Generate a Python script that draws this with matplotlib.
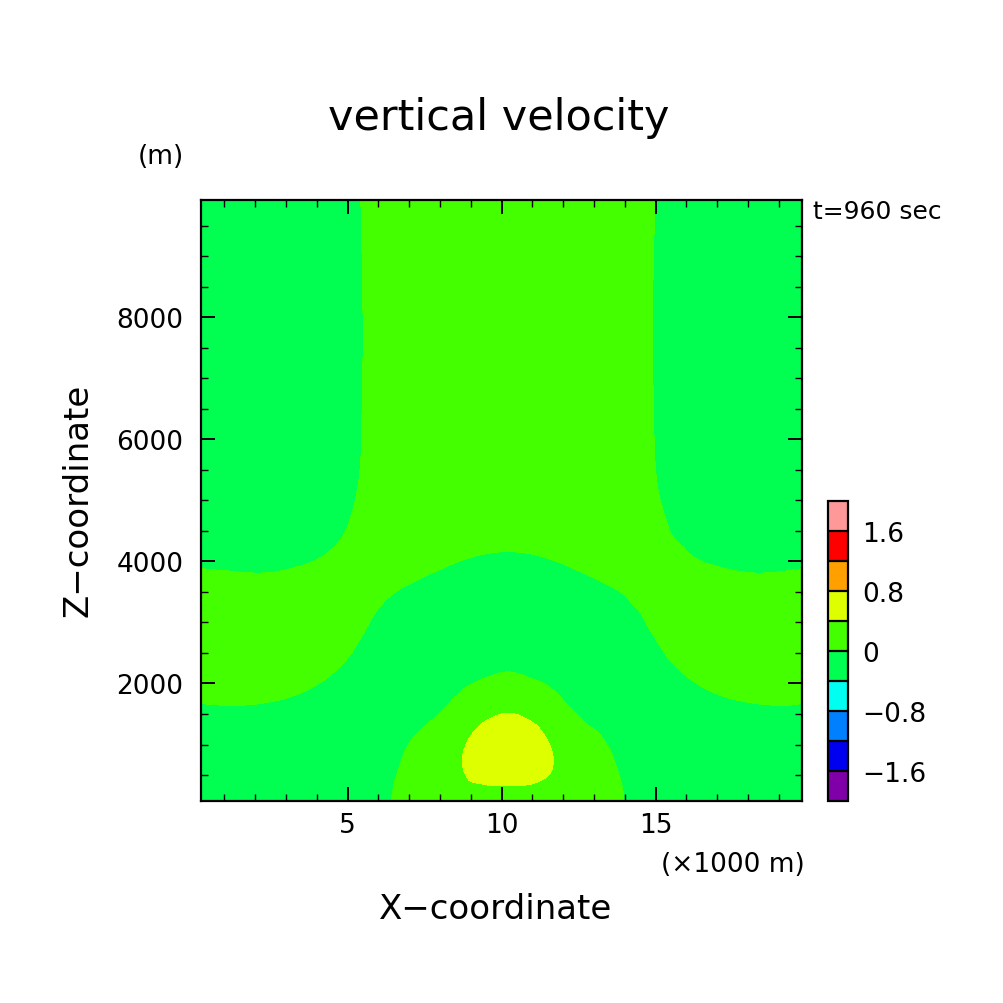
import numpy as np
import matplotlib
matplotlib.use("Agg")
import matplotlib.pyplot as plt
import matplotlib.tri as mtri

# ---------------- data ----------------
# x positions of the value columns (x 1000 m)
x_km = [0.25, 1.2, 2.2, 3.2, 4.2, 4.95, 5.7, 6.45, 7.2, 7.95, 8.7, 9.45, 10.2,
        10.95, 11.7, 12.45, 13.2, 13.95, 14.7, 15.45, 16.2, 17.2, 18.2, 19.2, 19.75]
# z positions of the value rows (m)
z_m = [75, 300, 600, 900, 1200, 1500, 1800, 2100, 2400, 2800, 3200, 3600, 4000,
       4400, 4800, 5400, 6500, 8000, 9925]
# vertical velocity (m/s), one row per z level
w_rows = [
    [-0.28, -0.28, -0.28, -0.28, -0.28, -0.235, -0.115, 0.005, 0.116, 0.22, 0.28, 0.30, 0.30, 0.30, 0.28, 0.22, 0.116, 0.005, -0.115, -0.235, -0.28, -0.28, -0.28, -0.28, -0.28],
    [-0.274, -0.268, -0.275, -0.28, -0.28, -0.246, -0.126, -0.006, 0.119, 0.24, 0.345, 0.38, 0.385, 0.38, 0.345, 0.24, 0.119, -0.006, -0.126, -0.246, -0.28, -0.28, -0.275, -0.268, -0.274],
    [-0.214, -0.208, -0.215, -0.238, -0.257, -0.28, -0.167, -0.036, 0.099, 0.24, 0.39, 0.51, 0.56, 0.51, 0.39, 0.24, 0.099, -0.036, -0.167, -0.28, -0.257, -0.238, -0.215, -0.208, -0.214],
    [-0.154, -0.148, -0.155, -0.175, -0.2, -0.236, -0.22, -0.077, 0.064, 0.22, 0.384, 0.56, 0.65, 0.56, 0.384, 0.22, 0.064, -0.077, -0.22, -0.236, -0.2, -0.175, -0.155, -0.148, -0.154],
    [-0.094, -0.088, -0.095, -0.115, -0.146, -0.18, -0.226, -0.145, -0.013, 0.121, 0.304, 0.485, 0.58, 0.485, 0.304, 0.121, -0.013, -0.145, -0.226, -0.18, -0.146, -0.115, -0.095, -0.088, -0.094],
    [-0.034, -0.028, -0.035, -0.056, -0.093, -0.131, -0.18, -0.23, -0.143, -0.002, 0.18, 0.335, 0.409, 0.335, 0.18, -0.002, -0.143, -0.23, -0.18, -0.131, -0.093, -0.056, -0.035, -0.028, -0.034],
    [0.026, 0.032, 0.025, 0.002, -0.04, -0.084, -0.135, -0.19, -0.24, -0.134, 0.039, 0.186, 0.232, 0.186, 0.039, -0.134, -0.24, -0.19, -0.135, -0.084, -0.04, 0.002, 0.025, 0.032, 0.026],
    [0.086, 0.092, 0.085, 0.058, 0.009, -0.04, -0.096, -0.156, -0.22, -0.27, -0.107, -0.007, 0.056, -0.007, -0.107, -0.27, -0.22, -0.156, -0.096, -0.04, 0.009, 0.058, 0.085, 0.092, 0.086],
    [0.146, 0.152, 0.145, 0.113, 0.056, 0.002, -0.06, -0.123, -0.185, -0.26, -0.28, -0.17, -0.12, -0.17, -0.28, -0.26, -0.185, -0.123, -0.06, 0.002, 0.056, 0.113, 0.145, 0.152, 0.146],
    [0.2, 0.2, 0.2, 0.18, 0.109, 0.046, -0.018, -0.083, -0.148, -0.185, -0.24, -0.26, -0.27, -0.26, -0.24, -0.185, -0.148, -0.083, -0.018, 0.046, 0.109, 0.18, 0.2, 0.2, 0.2],
    [0.136, 0.128, 0.122, 0.138, 0.153, 0.087, 0.021, -0.038, -0.085, -0.12, -0.15, -0.18, -0.19, -0.18, -0.15, -0.12, -0.085, -0.038, 0.021, 0.087, 0.153, 0.138, 0.122, 0.128, 0.136],
    [0.056, 0.048, 0.042, 0.058, 0.084, 0.12, 0.071, 0.021, -0.014, -0.046, -0.078, -0.10, -0.112, -0.10, -0.078, -0.046, -0.014, 0.021, 0.071, 0.12, 0.084, 0.058, 0.042, 0.048, 0.056],
    [-0.024, -0.032, -0.038, -0.022, 0.014, 0.062, 0.117, 0.08, 0.056, 0.026, -0.003, -0.024, -0.032, -0.024, -0.003, 0.026, 0.056, 0.08, 0.117, 0.062, 0.014, -0.022, -0.038, -0.032, -0.024],
    [-0.104, -0.112, -0.118, -0.10, -0.047, 0.01, 0.08, 0.16, 0.125, 0.099, 0.074, 0.056, 0.048, 0.056, 0.074, 0.099, 0.125, 0.16, 0.08, 0.01, -0.047, -0.10, -0.118, -0.112, -0.104],
    [-0.18, -0.19, -0.2, -0.175, -0.095, -0.018, 0.053, 0.13, 0.2, 0.17, 0.15, 0.136, 0.128, 0.136, 0.15, 0.17, 0.2, 0.13, 0.053, -0.018, -0.095, -0.175, -0.2, -0.19, -0.18],
    [-0.25, -0.25, -0.25, -0.22, -0.11, -0.043, 0.032, 0.107, 0.18, 0.25, 0.25, 0.25, 0.25, 0.25, 0.25, 0.25, 0.18, 0.107, 0.032, -0.043, -0.11, -0.22, -0.25, -0.25, -0.25],
    [-0.25, -0.25, -0.25, -0.227, -0.127, -0.052, 0.023, 0.098, 0.173, 0.25, 0.25, 0.25, 0.25, 0.25, 0.25, 0.25, 0.173, 0.098, 0.023, -0.052, -0.127, -0.227, -0.25, -0.25, -0.25],
    [-0.25, -0.25, -0.25, -0.23, -0.13, -0.055, 0.02, 0.095, 0.17, 0.25, 0.25, 0.25, 0.25, 0.25, 0.25, 0.25, 0.17, 0.095, 0.02, -0.055, -0.13, -0.23, -0.25, -0.25, -0.25],
    [-0.25, -0.25, -0.25, -0.22, -0.12, -0.048, 0.027, 0.10, 0.18, 0.25, 0.25, 0.25, 0.25, 0.25, 0.25, 0.25, 0.18, 0.10, 0.027, -0.048, -0.12, -0.22, -0.25, -0.25, -0.25],
]

# colour shading levels and colours
levels = [-2.0, -1.6, -1.2, -0.8, -0.4, 0.0, 0.4, 0.8, 1.2, 1.6, 2.0]
shade_colors = ["#7f00a8", "#0000f0", "#0080ff", "#00fff0", "#00ff50",
                "#44ff00", "#ddff00", "#ffa000", "#ff0000", "#ff9999"]
cbar_ticks = [-1.6, -0.8, 0.0, 0.8, 1.6]
cbar_ticklabels = ["\u22121.6", "\u22120.8", "0", "0.8", "1.6"]
x_major = [5, 10, 15]
z_major = [2000, 4000, 6000, 8000]

title = "vertical velocity"
xlabel = "X\u2212coordinate"
zlabel = "Z\u2212coordinate"
xunit = "(\u00d71000 m)"
zunit = "(m)"
time_text = "t=960 sec"

# ---------------- figure ----------------
plt.rcParams["font.family"] = ["DejaVu Sans"]
W = 1004.0
TICK_FS = 19
fig = plt.figure(figsize=(10.04, 10.04), dpi=100)
ax = fig.add_axes([201.3 / W, (W - 802) / W, (802 - 201.3) / W, (802 - 200.7) / W])

xs = np.array(x_km)
zs = np.array(z_m, dtype=float)
wv = np.array(w_rows)
XX, ZZ = np.meshgrid(xs, zs)
nz, nx = wv.shape
tris = []
for j in range(nz - 1):
    for i in range(nx - 1):
        p = j * nx + i
        tris.append([p, p + 1, p + nx + 1])
        tris.append([p, p + nx + 1, p + nx])
tri = mtri.Triangulation(XX.ravel(), ZZ.ravel() / 500.0, np.array(tris))
interp = mtri.CubicTriInterpolator(tri, wv.ravel(), kind="geom")
refiner = mtri.UniformTriRefiner(tri)
rtri, rw = refiner.refine_field(wv.ravel(), triinterpolator=interp, subdiv=3)
cf = ax.tricontourf(rtri.x, rtri.y * 500.0, rtri.triangles, rw,
                    levels=levels, colors=shade_colors, antialiased=False)

ax.set_xlim(0.25, 19.75)
ax.set_ylim(75, 9925)
ax.set_xticks(x_major)
ax.set_xticks(np.arange(1, 20), minor=True)
ax.set_yticks(z_major)
ax.set_yticks(np.arange(500, 9925, 500), minor=True)
ax.set_xticklabels([str(v) for v in x_major])
ax.set_yticklabels([str(v) for v in z_major])
ax.tick_params(which="both", direction="in", top=True, right=True, colors="black")
ax.tick_params(which="major", length=10, width=1.4, labelsize=TICK_FS)
ax.tick_params(axis="x", which="major", pad=8)
ax.tick_params(axis="y", which="major", pad=13)
ax.tick_params(which="minor", length=5, width=1.0)
for s in ax.spines.values():
    s.set_linewidth(1.6)

# colour bar
cax = fig.add_axes([828 / W, (W - 802) / W, 20 / W, 300 / W])
cb = fig.colorbar(cf, cax=cax, ticks=cbar_ticks, drawedges=True)
cb.set_ticklabels(cbar_ticklabels)
cb.outline.set_linewidth(1.6)
cb.dividers.set_color("black")
cb.dividers.set_linewidth(1.6)
cax.tick_params(length=0, labelsize=TICK_FS, pad=10)

# texts
fig.text(498.5 / W, 1 - 130 / W, title, ha="center", va="baseline", fontsize=31)
fig.text(495.5 / W, 1 - 919 / W, xlabel, ha="center", va="baseline", fontsize=24.5)
fig.text(78 / W, 1 - 500 / W, zlabel, ha="center", va="center", rotation=90, fontsize=24.5)
fig.text(161 / W, 1 - 157 / W, zunit, ha="center", va="center", fontsize=TICK_FS)
fig.text(733 / W, 1 - 865 / W, xunit, ha="center", va="center", fontsize=TICK_FS)
fig.text(813 / W, 1 - 219 / W, time_text, ha="left", va="baseline", fontsize=18)

fig.savefig("out.png", dpi=100, facecolor="white")
